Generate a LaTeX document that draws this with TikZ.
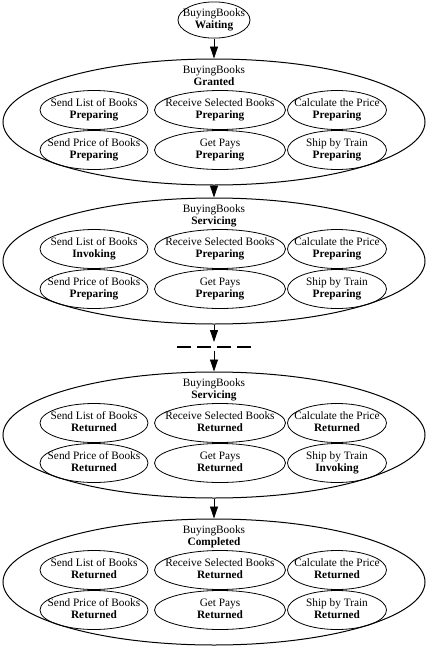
\documentclass[tikz,border=0pt]{standalone}
\usepackage{fontspec}
\setmainfont{Liberation Serif}
\usetikzlibrary{shapes.geometric, arrows.meta}

\newcommand{\twoline}[2]{\makebox[0pt]{\begin{tabular}{@{}c@{}}#1\\\textbf{#2}\end{tabular}}}

\begin{document}
\begin{tikzpicture}[x=1pt, y=-1pt,
  font=\fontsize{11.3}{12.8}\selectfont,
  outer/.style={ellipse, draw, line width=1pt, minimum width=422pt, minimum height=126pt, inner sep=0pt},
  task/.style={ellipse, draw, line width=0.8pt, minimum height=39pt, inner sep=0pt},
  taskL/.style={task, minimum width=108pt},
  taskM/.style={task, minimum width=131pt},
  taskR/.style={task, minimum width=99pt},
  flow/.style={-{Triangle[length=12pt,width=8pt]}, line width=0.8pt}]
\useasboundingbox (0,0) rectangle (427,646);

% Waiting
\node[task, minimum width=72pt, minimum height=34pt] (waiting) at (214,20) {\twoline{BuyingBooks}{Waiting}};

% Granted
\node[outer] (granted) at (214,122) {};
\node (grantedT) at (214,77) {\twoline{BuyingBooks}{Granted}};
\node[taskL] (g1) at (94,110) {\twoline{Send List of Books}{Preparing}};
\node[taskM] (g2) at (220,110) {\twoline{Receive Selected Books}{Preparing}};
\node[taskR] (g3) at (337,110) {\twoline{Calculate the Price}{Preparing}};
\node[taskL] (g4) at (94,150) {\twoline{Send Price of Books}{Preparing}};
\node[taskM] (g5) at (220,150) {\twoline{Get Pays}{Preparing}};
\node[taskR] (g6) at (337,150) {\twoline{Ship by Train}{Preparing}};

% Servicing (first)
\node[outer] (servA) at (214,261) {};
\node (servAT) at (214,216) {\twoline{BuyingBooks}{Servicing}};
\node[taskL] (a1) at (94,249) {\twoline{Send List of Books}{Invoking}};
\node[taskM] (a2) at (220,249) {\twoline{Receive Selected Books}{Preparing}};
\node[taskR] (a3) at (337,249) {\twoline{Calculate the Price}{Preparing}};
\node[taskL] (a4) at (94,289) {\twoline{Send Price of Books}{Preparing}};
\node[taskM] (a5) at (220,289) {\twoline{Get Pays}{Preparing}};
\node[taskR] (a6) at (337,289) {\twoline{Ship by Train}{Preparing}};

% Gap
\coordinate (gapTop) at (214,342);
\coordinate (gapBot) at (214,351);
\coordinate (dashL) at (177,347);
\coordinate (dashR) at (251,347);
\draw[line width=1.6pt, dash pattern=on 14pt off 6pt] (dashL) -- (dashR);

% Servicing (last)
\node[outer] (servB) at (214,435) {};
\node (servBT) at (214,390) {\twoline{BuyingBooks}{Servicing}};
\node[taskL] (b1) at (94,423) {\twoline{Send List of Books}{Returned}};
\node[taskM] (b2) at (220,423) {\twoline{Receive Selected Books}{Returned}};
\node[taskR] (b3) at (337,423) {\twoline{Calculate the Price}{Returned}};
\node[taskL] (b4) at (94,463) {\twoline{Send Price of Books}{Returned}};
\node[taskM] (b5) at (220,463) {\twoline{Get Pays}{Returned}};
\node[taskR] (b6) at (337,463) {\twoline{Ship by Train}{Invoking}};

% Completed
\node[outer] (completed) at (214,582) {};
\node (completedT) at (214,537) {\twoline{BuyingBooks}{Completed}};
\node[taskL] (c1) at (94,570) {\twoline{Send List of Books}{Returned}};
\node[taskM] (c2) at (220,570) {\twoline{Receive Selected Books}{Returned}};
\node[taskR] (c3) at (337,570) {\twoline{Calculate the Price}{Returned}};
\node[taskL] (c4) at (94,610) {\twoline{Send Price of Books}{Returned}};
\node[taskM] (c5) at (220,610) {\twoline{Get Pays}{Returned}};
\node[taskR] (c6) at (337,610) {\twoline{Ship by Train}{Returned}};

% Transitions
\draw[flow] (waiting) -- (granted);
\draw[flow] (granted) -- (servA);
\draw[flow] (servA) -- (gapTop);
\draw[flow] (gapBot) -- (servB);
\draw[flow] (servB) -- (completed);

\end{tikzpicture}
\end{document}
